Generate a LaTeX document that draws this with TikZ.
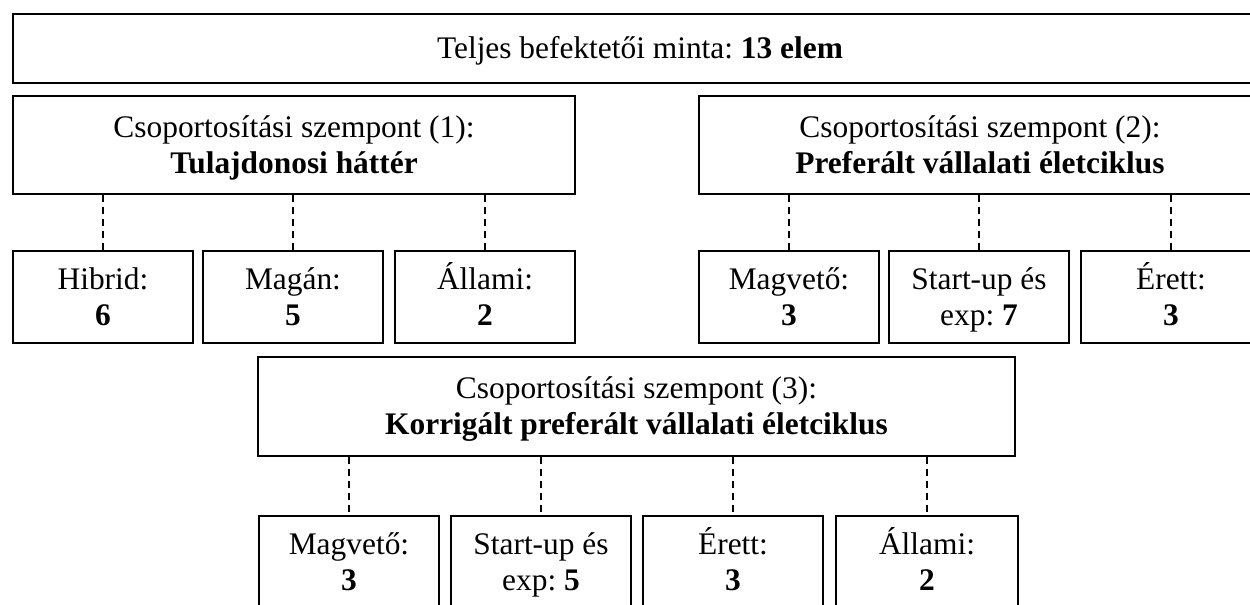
\documentclass[tikz,border=0pt]{standalone}
\usepackage{fontspec}
\setmainfont{Liberation Serif}
\newcommand{\lstrut}{\vphantom{ÁÉpy}}
\tikzset{
  box/.style={draw, line width=0.9pt, inner sep=0pt, align=center,
    font=\fontsize{15.7}{18}\selectfont\frenchspacing},
  leaf/.style={box, minimum width=90pt, minimum height=46pt},
  grp/.style={box, minimum width=281pt, minimum height=49pt},
  link/.style={line width=0.7pt, dash pattern=on 3.5pt off 2.5pt}
}
\begin{document}
\begin{tikzpicture}[x=0.5pt,y=-0.5pt]
\useasboundingbox (0,0) rectangle (1250,605);
\clip (0,0) rectangle (1250,605);
% top
\node[box, minimum width=627pt, minimum height=34.5pt] (top) at (640,48.5) {\lstrut Teljes befektetői minta: \textbf{13 elem}};
% groups
\node[grp] (g1) at (294,145) {\lstrut Csoportosítási szempont (1):\\\lstrut\textbf{Tulajdonosi háttér}};
\node[grp] (g2) at (980,145) {\lstrut Csoportosítási szempont (2):\\\lstrut\textbf{Preferált vállalati életciklus}};
\node[box, minimum width=378.5pt, minimum height=49.5pt] (g3) at (636.5,406.5) {\lstrut Csoportosítási szempont (3):\\\lstrut\textbf{Korrigált preferált vállalati életciklus}};
% row 1
\node[leaf] (a1) at (103,297) {\lstrut Hibrid:\\\lstrut\textbf{6}};
\node[leaf] (a2) at (293,297) {\lstrut Magán:\\\lstrut\textbf{5}};
\node[leaf] (a3) at (485,297) {\lstrut Állami:\\\lstrut\textbf{2}};
\node[leaf] (b1) at (789,297) {\lstrut Magvető:\\\lstrut\textbf{3}};
\node[leaf] (b2) at (979,297) {\lstrut Start-up és\\\lstrut exp: \textbf{7}};
\node[leaf] (b3) at (1171,297) {\lstrut Érett:\\\lstrut\textbf{3}};
% row 2
\node[leaf] (c1) at (349,562) {\lstrut Magvető:\\\lstrut\textbf{3}};
\node[leaf] (c2) at (541,562) {\lstrut Start-up és\\\lstrut exp: \textbf{5}};
\node[leaf] (c3) at (733,562) {\lstrut Érett:\\\lstrut\textbf{3}};
\node[leaf, minimum width=91pt] (c4) at (927,562) {\lstrut Állami:\\\lstrut\textbf{2}};
% connectors
\foreach \c in {a1,a2,a3} \draw[link] (\c.north |- g1.south) -- (\c.north);
\foreach \c in {b1,b2,b3} \draw[link] (\c.north |- g2.south) -- (\c.north);
\foreach \c in {c1,c2,c3,c4} \draw[link] (\c.north |- g3.south) -- (\c.north);
\end{tikzpicture}
\end{document}
